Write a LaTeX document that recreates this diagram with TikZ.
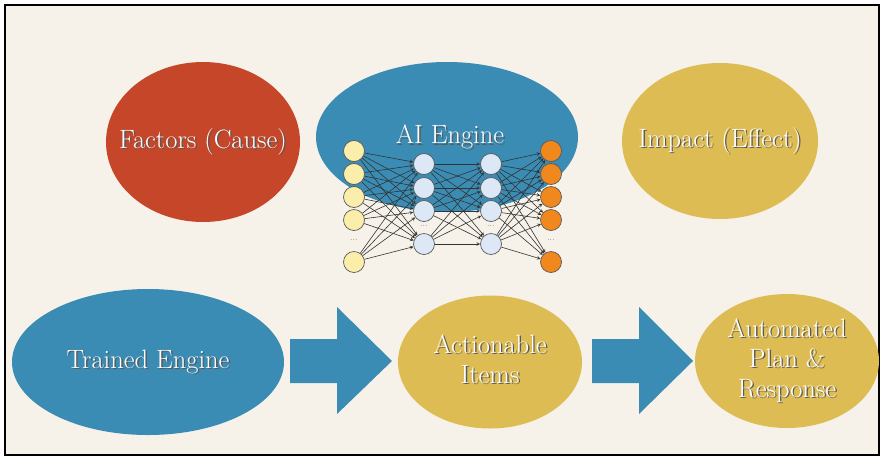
\documentclass[tikz,border=0pt]{standalone}
\usetikzlibrary{shapes.geometric}

\definecolor{paper}{RGB}{246,242,233}
\definecolor{causered}{RGB}{198,70,42}
\definecolor{engblue}{RGB}{58,140,180}
\definecolor{effyellow}{RGB}{222,188,84}
\definecolor{inyellow}{RGB}{251,238,170}
\definecolor{hidblue}{RGB}{220,232,246}
\definecolor{outorange}{RGB}{240,136,30}

% white text with a soft drop shadow
\newcommand{\sh}[1]{\leavevmode\rlap{\kern1.4pt\raisebox{-1.4pt}{\textcolor{black!65}{#1}}}#1}
% text that does not widen its ellipse
\newcommand{\inner}[1]{\makebox[0pt]{\begin{tabular}{@{}c@{}}#1\end{tabular}}}

\begin{document}
\begin{tikzpicture}[x=1pt,y=-1pt,
  blob/.style={ellipse,inner sep=0pt,text=white,font=\fontsize{26.5}{30}\selectfont},
  unit/.style={circle,draw=black!65,line width=0.7pt,minimum size=21pt,inner sep=0pt},
  dots/.style={inner sep=0pt,font=\small,text=black!60},
  link/.style={->,line width=0.6pt,-stealth,black!80}]

\useasboundingbox (0,0) rectangle (880,459);
\fill[white] (0,0) rectangle (880,459);
\filldraw[fill=paper,draw=black,line width=1.5pt] (5,5) rectangle (879,455);

% top row
\node[blob,fill=causered,minimum width=194pt,minimum height=160pt] (cause) at (203,142) {\inner{\sh{Factors (Cause)}}};
\node[blob,fill=engblue,minimum width=262pt,minimum height=150pt] (engine) at (447,137) {};
\node[blob,fill=effyellow,minimum width=196pt,minimum height=156pt] (effect) at (720,141) {\inner{\sh{Impact (Effect)}}};

% the network
\foreach \i/\y in {1/151,2/174,3/197,4/220,5/262}{
  \node[unit,fill=inyellow] (in\i) at (354,\y) {};
  \node[unit,fill=outorange] (out\i) at (551,\y) {};
}
\foreach \i/\y in {1/164,2/188,3/211,4/244}{
  \node[unit,fill=hidblue] (ha\i) at (424,\y) {};
  \node[unit,fill=hidblue] (hb\i) at (491,\y) {};
}

\foreach \a in {1,...,5}
  \foreach \b in {1,...,4}{
    \draw[link] (in\a) -- (ha\b);
    \draw[link] (hb\b) -- (out\a);
  }
\foreach \a in {1,...,4}
  \foreach \b in {1,...,4}
    \draw[link] (ha\a) -- (hb\b);

\node[dots] (din) at (354,240) {...};
\node[dots] (dout) at (551,240) {...};
\node[dots] (dha) at (424,226) {...};
\node[dots] (dhb) at (491,226) {...};

\node[text=white,font=\fontsize{26.5}{30}\selectfont] (ailabel) at (450,138) {\sh{AI Engine}};

% bottom row
\node[blob,fill=engblue,minimum width=272pt,minimum height=146pt] (trained) at (148,362) {\inner{\sh{Trained Engine}}};
\node[blob,fill=effyellow,minimum width=184pt,minimum height=133pt] (items) at (490,362) {\inner{\sh{Actionable}\\ \sh{Items}}};
\node[blob,fill=effyellow,minimum width=184pt,minimum height=134pt] (plan) at (787,361) {\inner{\sh{Automated}\\ \sh{Plan \&}\\ \sh{Response}}};

% block arrows
\fill[engblue] (290,339) -- (337,339) -- (337,307) -- (392,361) -- (337,414) -- (337,383) -- (290,383) -- cycle;
\fill[engblue] (592,339) -- (639,339) -- (639,307) -- (693,361) -- (639,414) -- (639,383) -- (592,383) -- cycle;

\end{tikzpicture}
\end{document}
